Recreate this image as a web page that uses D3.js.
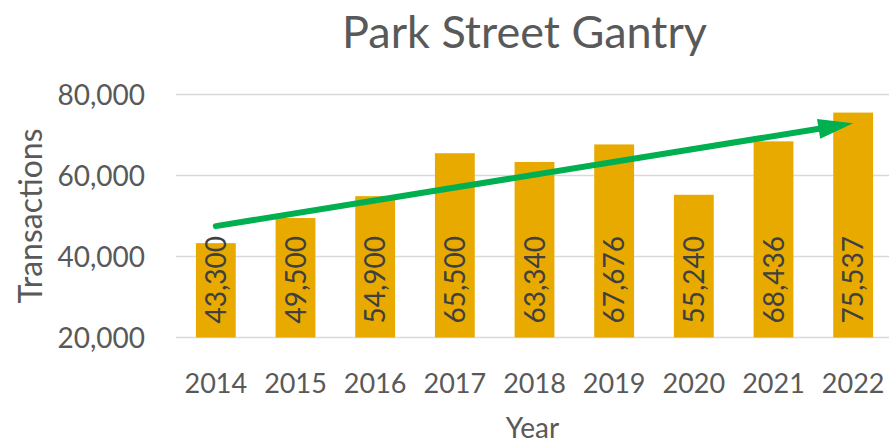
<!DOCTYPE html>
<html>
<head>
<meta charset="utf-8">
<script src="https://cdn.jsdelivr.net/npm/d3@7"></script>
<style>
  html, body { margin: 0; padding: 0; background: #fff; }
  #chart { width: 889px; height: 443px; }
  text { font-family: Lato, "Open Sans", sans-serif; fill: #595959; }
</style>
</head>
<body>
<div id="chart"></div>
<script>
// Data
const years = ['2014', '2015', '2016', '2017', '2018', '2019', '2020', '2021', '2022'];
const transactions = [43300, 49500, 54900, 65500, 63340, 67676, 55240, 68436, 75537];
const yTicks = [20000, 40000, 60000, 80000];
// trend arrow, drawn from first to last year
const trendYears = ['2014', '2022'];
const trendValues = [47500, 72900];

const width = 889, height = 443;
const plot = { left: 176, right: 893, top: 94.5, bottom: 337.5 };

const svg = d3.select('#chart')
    .append('svg')
    .attr('width', width)
    .attr('height', height);

const x = d3.scaleBand()
    .domain(years)
    .range([plot.left, plot.right])
    .paddingInner(0.5)
    .paddingOuter(0.25);

const y = d3.scaleLinear()
    .domain([20000, 80000])
    .range([plot.bottom, plot.top]);

const fmt = d3.format(',');

// Gridlines
svg.append('g')
    .selectAll('line')
    .data(yTicks)
    .enter()
    .append('line')
    .attr('x1', plot.left)
    .attr('x2', plot.right)
    .attr('y1', d => y(d))
    .attr('y2', d => y(d))
    .attr('stroke', '#d9d9d9')
    .attr('stroke-width', 1.5);

// Y axis labels
const yAxis = svg.append('g')
    .attr('transform', `translate(${plot.left - 31},0)`)
    .call(d3.axisLeft(y).tickValues(yTicks).tickFormat(fmt).tickSize(0).tickPadding(0));
yAxis.select('.domain').remove();
yAxis.selectAll('text')
    .style('font-size', '28px')
    .style('fill', '#595959')
    .attr('dy', '0.36em');

// X axis labels
const xAxis = svg.append('g')
    .attr('transform', `translate(0,${plot.bottom})`)
    .call(d3.axisBottom(x).tickSize(0).tickPadding(0));
xAxis.select('.domain').remove();
xAxis.selectAll('text')
    .style('font-size', '27px')
    .style('fill', '#595959')
    .attr('y', 55)
    .attr('dy', 0);

// Bars
const data = years.map((yr, i) => ({ year: yr, value: transactions[i] }));

svg.append('g')
    .selectAll('rect')
    .data(data)
    .enter()
    .append('rect')
    .attr('x', d => x(d.year))
    .attr('y', d => y(d.value))
    .attr('width', x.bandwidth())
    .attr('height', d => plot.bottom - y(d.value))
    .attr('fill', '#e9aa00');

// Bar labels (rotated, inside base)
svg.append('g')
    .selectAll('text')
    .data(data)
    .enter()
    .append('text')
    .attr('transform', d => `translate(${x(d.year) + x.bandwidth() / 2},${plot.bottom - 14}) rotate(-90)`)
    .attr('text-anchor', 'start')
    .attr('dy', '0.36em')
    .style('font-size', '28px')
    .style('fill', '#404040')
    .text(d => fmt(d.value));

// Trend arrow
const trend = trendYears.map((yr, i) => [x(yr) + x.bandwidth() / 2, y(trendValues[i])]);
const headLen = 35, headHalf = 10;
const dx = trend[1][0] - trend[0][0], dy = trend[1][1] - trend[0][1];
const len = Math.sqrt(dx * dx + dy * dy);
const ux = dx / len, uy = dy / len;
const base = [trend[1][0] - ux * headLen, trend[1][1] - uy * headLen];

svg.append('line')
    .attr('x1', trend[0][0])
    .attr('y1', trend[0][1])
    .attr('x2', base[0] + ux * 2)
    .attr('y2', base[1] + uy * 2)
    .attr('stroke', '#00b050')
    .attr('stroke-width', 6)
    .attr('stroke-linecap', 'round');

svg.append('path')
    .attr('d', d3.line()([
        trend[1],
        [base[0] - uy * headHalf, base[1] + ux * headHalf],
        [base[0] + uy * headHalf, base[1] - ux * headHalf]
    ]) + 'Z')
    .attr('fill', '#00b050');

// Axis titles
svg.append('text')
    .attr('x', (plot.left + plot.right) / 2 - 2)
    .attr('y', 438)
    .attr('text-anchor', 'middle')
    .style('font-size', '28px')
    .text('Year');

svg.append('text')
    .attr('transform', `translate(42,${(plot.top + plot.bottom) / 2}) rotate(-90)`)
    .attr('text-anchor', 'middle')
    .style('font-size', '32px')
    .text('Transactions');

// Title
svg.append('text')
    .attr('x', 524.5)
    .attr('y', 48)
    .attr('text-anchor', 'middle')
    .style('font-size', '45px')
    .text('Park Street Gantry');
</script>
</body>
</html>
